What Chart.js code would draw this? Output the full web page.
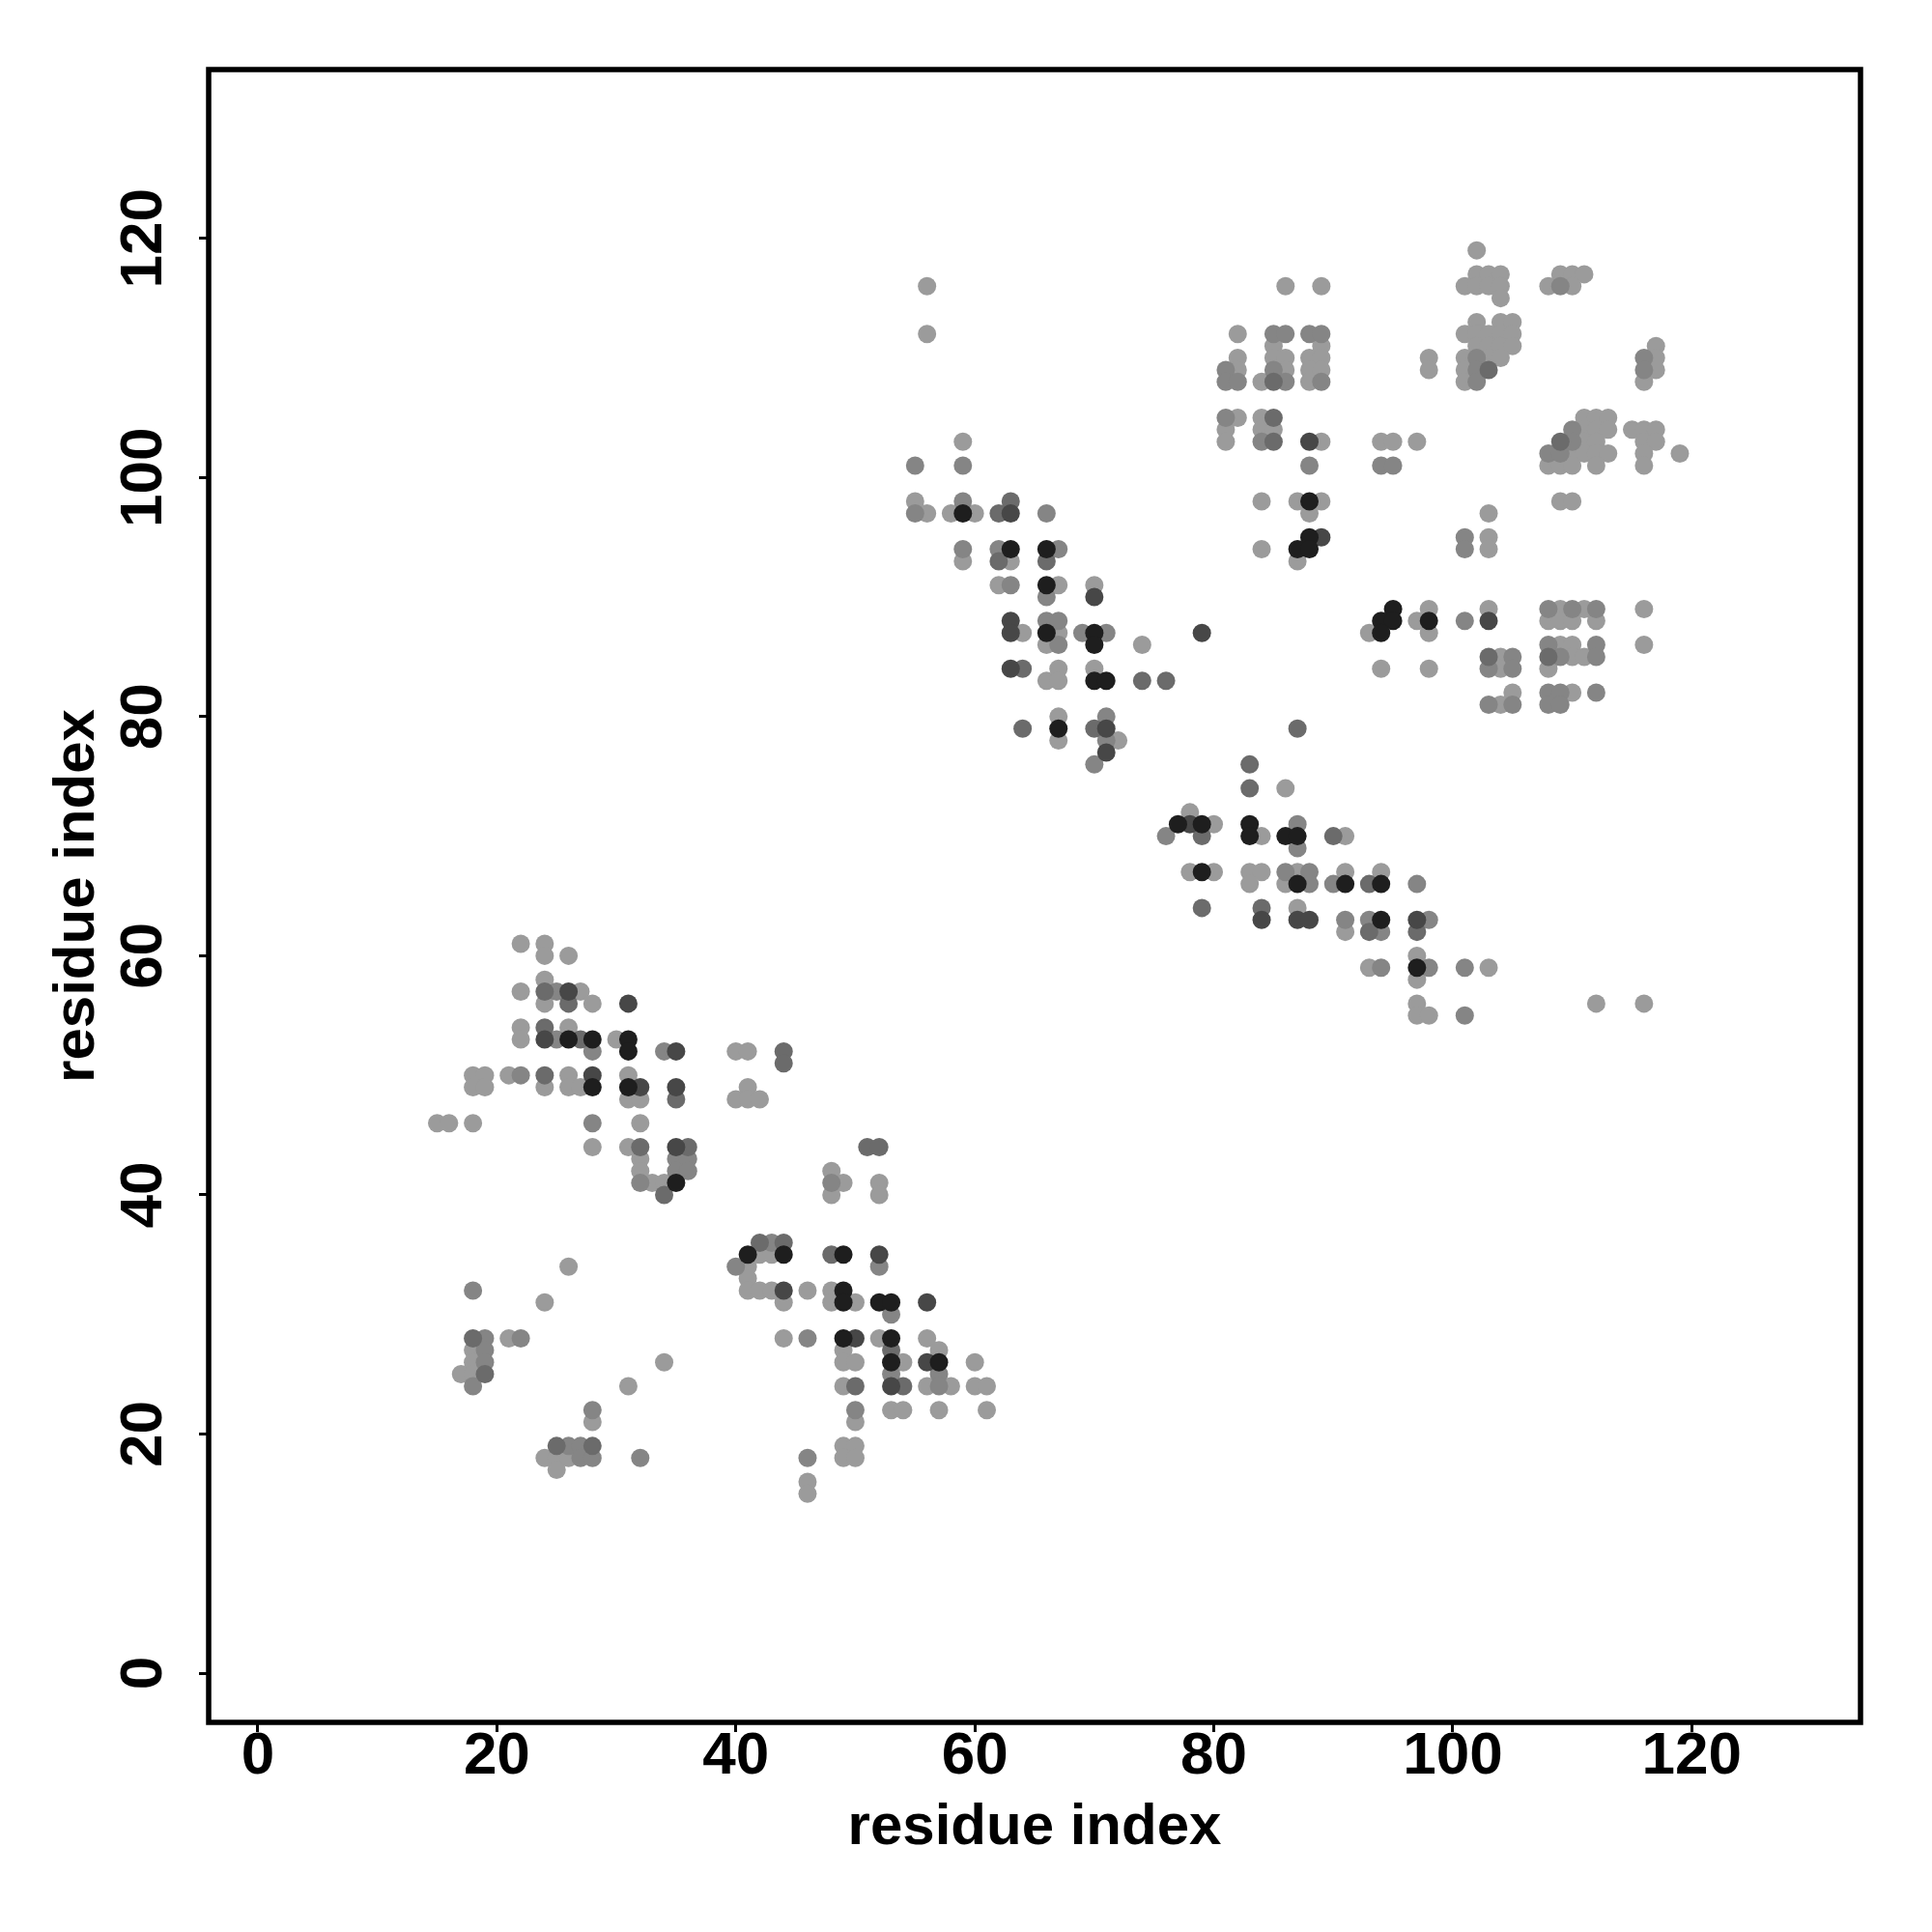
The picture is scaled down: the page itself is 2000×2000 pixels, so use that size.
<!DOCTYPE html>
<html>
<head>
<meta charset="utf-8">
<script src="https://cdn.jsdelivr.net/npm/chart.js@4.4.1/dist/chart.umd.min.js"></script>
<style>body{margin:0;background:#fff}</style>
</head>
<body>
<canvas id="contactMap" width="2000" height="2000"></canvas>
<script>
// axis ticks and title (same on both axes)
const tickValues = [0, 20, 40, 60, 80, 100, 120];
const axisLabel = 'residue index';

// residue contacts [i, j], grouped by shade, lightest first
const lightPts = [
  [22,61],[24,61],[24,60],[26,60],[24,58],[22,57],[27,57],[24,56],[28,56],[22,54],[26,54],[22,53],[30,53],
  [18,50],[19,50],[21,50],[26,50],[31,50],[18,49],[19,49],[24,49],[26,49],[27,49],[31,48],[32,48],
  [15,46],[16,46],[18,46],[32,46],[28,44],[31,44],[32,43],[32,42],[33,41],[34,41],
  [40,52],[41,52],[41,49],[40,48],[41,48],[42,48],[48,42],[49,41],[52,41],[48,40],[52,40],
  [26,34],[24,31],[21,28],[18,27],[18,26],[17,25],[18,25],[34,26],[31,24],[28,21],[24,18],[25,18],[26,18],[25,17],
  [42,35],[43,35],[41,34],[41,33],[41,32],[42,32],[43,32],[46,32],[48,32],[44,31],[48,31],[50,31],
  [44,28],[52,28],[56,28],[49,27],[57,27],[49,26],[50,26],[54,26],[60,26],[49,24],[56,24],[58,24],[60,24],[61,24],
  [53,22],[54,22],[57,22],[61,22],[50,21],[49,19],[50,19],[49,18],[50,18],[46,16],[46,15],
  [56,116],[56,112],[59,103],[55,98],[56,97],[58,97],[60,97],[59,93],[63,93],[62,91],[67,91],[70,91],
  [64,87],[67,87],[66,86],[74,86],[67,84],[70,84],[66,83],[67,83],[67,80],[67,78],[72,78],
  [86,74],[78,72],[80,71],[84,70],[91,70],[78,67],[80,67],[83,67],[84,67],[87,67],[91,67],[94,67],
  [83,66],[86,66],[87,64],[91,62],[97,60],[93,59],[103,59],[97,58],[97,56],[97,55],[98,55],[112,56],[116,56],
  [86,116],[89,116],[82,112],[85,111],[89,111],[82,110],[85,110],[86,110],[88,110],[89,110],[98,110],
  [82,109],[86,109],[88,109],[89,109],[98,109],[84,108],[88,108],[82,105],[84,105],[81,104],[84,104],[85,104],
  [81,103],[89,103],[94,103],[95,103],[97,103],[84,98],[87,98],[89,98],[88,97],[84,94],[87,93],
  [102,119],[102,117],[103,117],[104,117],[109,117],[110,117],[111,117],[101,116],[102,116],[103,116],[104,116],
  [108,116],[110,116],[104,115],[102,113],[104,113],[105,113],[101,112],[102,112],[103,112],[104,112],[105,112],
  [102,111],[103,111],[104,111],[105,111],[101,110],[103,110],[104,110],[101,109],[101,108],
  [117,111],[117,110],[117,109],[116,108],[111,105],[112,105],[113,105],[111,104],[112,104],[113,104],
  [115,104],[116,104],[117,104],[111,103],[112,103],[116,103],[117,103],[110,102],[111,102],[112,102],
  [113,102],[116,102],[119,102],[108,101],[109,101],[110,101],[112,101],[116,101],[109,98],[110,98],
  [103,97],[103,95],[103,94],
  [98,89],[103,89],[109,89],[111,89],[116,89],[97,88],[108,88],[109,88],[110,88],[112,88],[93,87],[98,87],
  [109,86],[110,86],[116,86],[104,85],[110,85],[111,85],[94,84],[98,84],[104,84],[108,84],[105,82],[110,82],[104,81]
];
const midPts = [
  [25,57],[25,53],[28,52],[34,52],[22,50],[28,46],[35,43],[36,43],[35,42],[36,42],[32,41],[48,41],
  [18,32],[19,28],[22,28],[19,27],[19,26],[18,24],[28,22],[26,19],[27,19],[27,18],[28,18],[32,18],
  [43,36],[40,34],[52,34],[53,30],[46,28],[53,25],[57,25],[57,24],[50,22],[46,18],
  [55,101],[59,101],[59,98],[55,97],[66,97],[59,94],[62,94],[67,94],[63,91],[66,90],[66,88],[67,88],
  [69,87],[71,87],[67,86],[71,80],[71,78],[70,76],
  [87,71],[76,70],[87,69],[86,67],[88,67],[88,66],[90,66],[97,66],[91,63],[93,63],[98,63],[94,62],
  [94,59],[98,59],[101,59],[101,55],
  [85,112],[86,112],[88,112],[89,112],[81,109],[85,109],[81,108],[82,108],[86,108],[89,108],[81,105],
  [84,103],[88,101],[94,101],[95,101],
  [109,116],[102,110],[102,109],[102,108],[116,110],[116,109],[110,104],[110,103],[108,102],[109,102],
  [101,95],[101,94],
  [108,89],[110,89],[112,89],[101,88],[108,86],[112,86],[105,85],[109,85],[112,85],[103,84],[105,84],
  [108,82],[109,82],[112,82],[103,81],[105,81],[108,81],[109,81]
];
const midDarkPts = [
  [24,57],[26,56],[24,54],[27,53],[24,50],[35,48],[32,44],[36,44],[34,40],
  [44,52],[44,51],[51,44],[52,44],[18,28],[19,25],[25,19],[28,19],
  [42,36],[44,36],[48,35],[53,27],[50,24],[54,24],
  [63,98],[62,97],[62,93],[66,93],[64,84],[74,83],[76,83],[64,79],[70,79],
  [87,79],[83,76],[83,74],[79,70],[90,70],[93,66],[79,64],[84,64],[93,62],[97,62],
  [85,108],[85,105],[85,103],[103,109],[109,103],[103,85],[108,85]
];
const darkPts = [
  [26,57],[31,56],[24,53],[35,52],[28,50],[32,49],[35,49],[35,44],
  [52,35],[44,32],[56,31],[50,28],[56,26],[53,24],
  [63,97],[70,90],[63,88],[63,87],[79,87],[63,84],[71,79],[71,77],
  [78,71],[84,63],[87,63],[88,63],[97,63],[88,103],[89,95],[103,88]
];
const blackPts = [
  [26,53],[28,53],[31,53],[31,52],[28,49],[31,49],[35,41],
  [41,35],[44,35],[49,35],[49,32],[49,31],[52,31],[53,31],[49,28],[53,28],[53,26],[57,26],
  [59,97],[63,94],[66,94],[66,91],[66,87],[70,87],[70,86],[70,83],[71,83],[67,79],
  [77,71],[79,71],[83,71],[83,70],[86,70],[87,70],[79,67],[87,66],[91,66],[94,66],[94,63],[97,59],
  [88,98],[88,95],[87,94],[88,94],[95,89],[94,88],[95,88],[98,88],[94,87]
];

const toXY = pts => pts.map(p => ({x: p[0], y: p[1]}));

Chart.defaults.font.family = "'Liberation Sans', Arial, sans-serif";
Chart.defaults.color = '#000';

// box around the plot region
const framePlugin = {
  id: 'frame',
  afterDraw(chart) {
    const {ctx, chartArea: a} = chart;
    ctx.save();
    ctx.strokeStyle = '#000';
    ctx.lineWidth = 5.5;
    ctx.strokeRect(a.left, a.top, a.right - a.left, a.bottom - a.top);
    ctx.restore();
  }
};

const tickFont = {size: 62, weight: 'bold', lineHeight: 1.2};
const titleFont = {size: 60, weight: 'bold', lineHeight: 1.2};

function makeAxis(isY) {
  return {
    type: 'linear',
    min: -4.12,
    max: 134.12,
    afterBuildTicks: s => { s.ticks = tickValues.map(v => ({value: v})); },
    afterFit: s => { if (isY) s.width = 216; else s.height = 217; },
    border: {display: false},
    grid: {drawOnChartArea: false, drawTicks: true, tickLength: 10, color: '#000', lineWidth: 3},
    ticks: isY
      ? {font: tickFont, minRotation: 90, maxRotation: 90, crossAlign: 'center', padding: 4, autoSkip: false}
      : {font: tickFont, maxRotation: 0, padding: -11, autoSkip: false},
    title: {
      display: true,
      text: axisLabel,
      font: titleFont,
      padding: isY ? {top: 44, bottom: 0} : {top: 0, bottom: 72}
    }
  };
}

const mk = (pts, color) => ({
  data: toXY(pts),
  backgroundColor: color,
  borderWidth: 0,
  pointRadius: 9.5,
  pointHoverRadius: 9.5
});

new Chart(document.getElementById('contactMap'), {
  type: 'scatter',
  data: {
    // first dataset is drawn on top
    datasets: [
      mk(blackPts, '#1e1e1e'),
      mk(darkPts, '#474747'),
      mk(midDarkPts, '#6b6b6b'),
      mk(midPts, '#858585'),
      mk(lightPts, '#9b9b9b')
    ]
  },
  options: {
    responsive: false,
    animation: false,
    events: [],
    layout: {padding: {top: 72, right: 74, left: 0, bottom: 0}},
    plugins: {legend: {display: false}, tooltip: {enabled: false}},
    scales: {x: makeAxis(false), y: makeAxis(true)}
  },
  plugins: [framePlugin]
});
</script>
</body>
</html>
